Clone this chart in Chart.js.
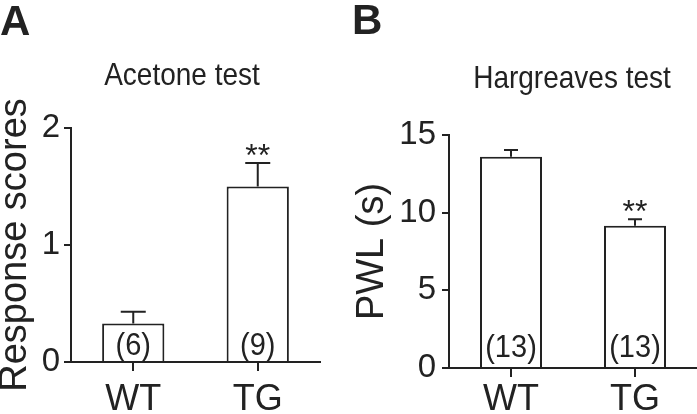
<!DOCTYPE html>
<html>
<head>
<meta charset="utf-8">
<script src="https://cdn.jsdelivr.net/npm/chart.js@4.4.0/dist/chart.umd.min.js"></script>
<style>
  html, body { margin: 0; padding: 0; background: #fff; }
  #wrap { position: relative; width: 697px; height: 414px; overflow: hidden; background: #fff; }
  #wrap canvas { position: absolute; top: 0; }
  #panelA { left: 0; }
  #panelB { left: 348px; }
</style>
</head>
<body>
<div id="wrap">
  <canvas id="panelA" width="348" height="414"></canvas>
  <canvas id="panelB" width="349" height="414"></canvas>
</div>
<script>
// ── Data ──────────────────────────────────────────────────
const groups = ['WT', 'TG'];

// A — Acetone test
const acetoneMean  = [0.33, 1.5];
const acetoneSem   = [0.1, 0.2];
const acetoneN     = ['(6)', '(9)'];
const acetoneSig   = ['', '**'];
const acetoneTicks = [0, 1, 2];

// B — Hargreaves test
const hargMean  = [13.6, 9.15];
const hargSem   = [0.43, 0.43];
const hargN     = ['(13)', '(13)'];
const hargSig   = ['', '**'];
const hargTicks = [0, 5, 10, 15];

// ── Style ─────────────────────────────────────────────────
const INK  = '#222';
const FONT = "'Liberation Sans', Arial, sans-serif";

const panels = [
  {
    id: 'panelA', letter: 'A', title: 'Acetone test', yLabel: 'Response scores',
    mean: acetoneMean, sem: acetoneSem, n: acetoneN, sig: acetoneSig, ticks: acetoneTicks,
    pad: { left: 0, right: 28, top: 128, bottom: 0 },
    yWidth: 71, xHeight: 52, tickPad: 4, xPad: 7,
    cap: 25, nLift: 7,
    letterX: 0, letterY: 35, titleX: 182, titleY: 85, yLabelX: 26
  },
  {
    id: 'panelB', letter: 'B', title: 'Hargreaves test', yLabel: 'PWL (s)',
    mean: hargMean, sem: hargSem, n: hargN, sig: hargSig, ticks: hargTicks,
    pad: { left: 0, right: 0, top: 135, bottom: 0 },
    yWidth: 101, xHeight: 46, tickPad: 6, xPad: 1,
    cap: 14, nLift: 11,
    letterX: 4, letterY: 34, titleX: 224, titleY: 88, yLabelX: 35
  }
];

// text drawn a little taller than wide, like the source figure
function tallText(ctx, text, x, y, stretch) {
  ctx.save();
  ctx.translate(x, y);
  ctx.scale(1, stretch);
  ctx.fillText(text, 0, 0);
  ctx.restore();
}

// ── Error bars, n labels, asterisks, titles ───────────────
function decorPlugin(p) {
  return {
    id: 'decor',
    afterDatasetsDraw(chart) {
      const ctx = chart.ctx;
      const y = chart.scales.y;
      const area = chart.chartArea;
      const bars = chart.getDatasetMeta(0).data;

      ctx.save();
      ctx.strokeStyle = INK;
      ctx.fillStyle = INK;
      ctx.lineWidth = 2;
      ctx.textAlign = 'center';
      ctx.textBaseline = 'alphabetic';

      bars.forEach((bar, i) => {
        const capY = y.getPixelForValue(p.mean[i] + p.sem[i]);
        ctx.beginPath();
        ctx.moveTo(bar.x, bar.y);
        ctx.lineTo(bar.x, capY);
        ctx.moveTo(bar.x - p.cap / 2, capY);
        ctx.lineTo(bar.x + p.cap / 2, capY);
        ctx.stroke();

        ctx.font = `29px ${FONT}`;
        tallText(ctx, p.n[i], bar.x, y.getPixelForValue(0) - p.nLift, 1.1);

        if (p.sig[i]) {
          ctx.font = `32px ${FONT}`;
          ctx.fillText(p.sig[i], bar.x, capY + 3);
        }
      });

      // panel title
      ctx.font = `28px ${FONT}`;
      tallText(ctx, p.title, p.titleX, p.titleY, 1.1);

      // panel letter
      ctx.textAlign = 'left';
      ctx.font = `bold 42px ${FONT}`;
      ctx.fillText(p.letter, p.letterX, p.letterY);

      // y axis label
      ctx.translate(p.yLabelX, (area.top + area.bottom) / 2);
      ctx.rotate(-Math.PI / 2);
      ctx.textAlign = 'center';
      ctx.font = `38px ${FONT}`;
      ctx.fillText(p.yLabel, 0, 0);

      ctx.restore();
    }
  };
}

// ── Build one panel ───────────────────────────────────────
function renderPanel(p) {
  const canvas = document.getElementById(p.id);
  return new Chart(canvas, {
    type: 'bar',
    data: {
      labels: groups,
      datasets: [{
        data: p.mean,
        backgroundColor: '#fff',
        borderColor: INK,
        borderWidth: 2,
        barPercentage: 0.5,
        categoryPercentage: 1
      }]
    },
    options: {
      responsive: false,
      animation: false,
      layout: { padding: p.pad },
      plugins: {
        legend: { display: false },
        tooltip: { enabled: false },
        title: { display: false }
      },
      scales: {
        x: {
          grid: { offset: false, drawOnChartArea: false, tickLength: 9, color: INK, lineWidth: 2 },
          border: { color: INK, width: 2 },
          ticks: { color: INK, padding: p.xPad, font: { family: FONT, size: 36 } },
          afterFit: (s) => { s.height = p.xHeight; }
        },
        y: {
          min: p.ticks[0],
          max: p.ticks[p.ticks.length - 1],
          afterBuildTicks: (s) => { s.ticks = p.ticks.map(v => ({ value: v })); },
          grid: { drawOnChartArea: false, tickLength: 7, color: INK, lineWidth: 2 },
          border: { color: INK, width: 2 },
          ticks: { color: INK, padding: p.tickPad, font: { family: FONT, size: 33 } },
          afterFit: (s) => { s.width = p.yWidth; }
        }
      }
    },
    plugins: [decorPlugin(p)]
  });
}

panels.forEach(renderPanel);
</script>
</body>
</html>
